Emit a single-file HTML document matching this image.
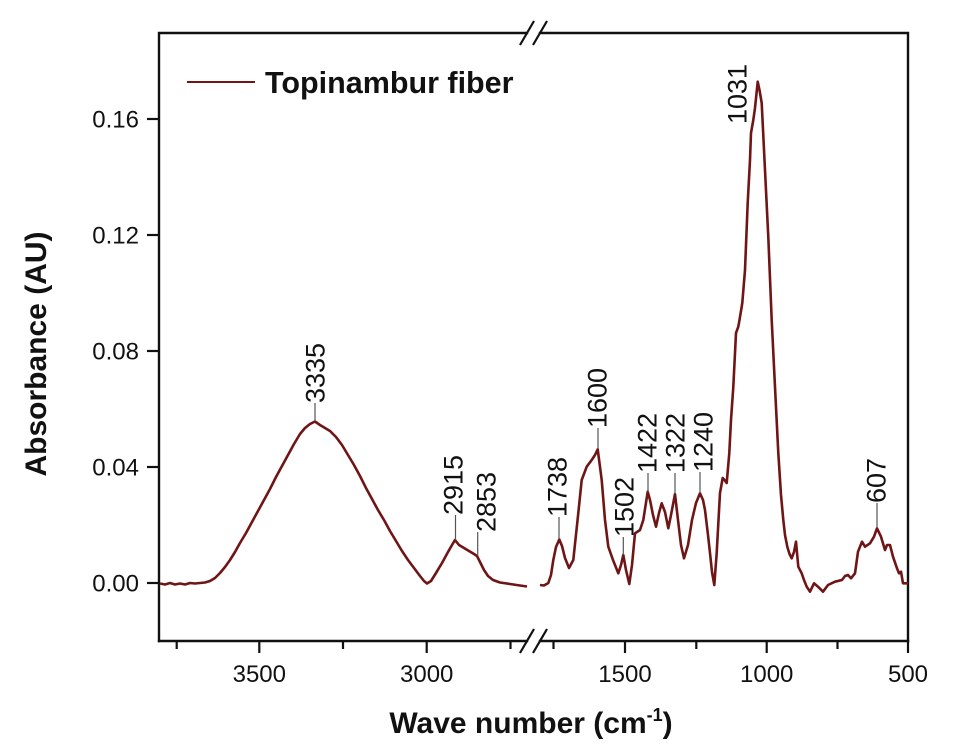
<!DOCTYPE html>
<html><head><meta charset="utf-8"><style>
html,body{margin:0;padding:0;background:#fff;}
svg{display:block;}
text{font-family:"Liberation Sans",Arial,sans-serif;fill:#111;}
</style></head><body>
<svg width="953" height="750" viewBox="0 0 953 750" xmlns="http://www.w3.org/2000/svg">
<!-- frame -->
<g stroke="#111" stroke-width="2.4" fill="none" stroke-linecap="square">
<path d="M159,641 L159,33 L527,33"/>
<path d="M540,33 L908,33 L908,641"/>
<path d="M159,641 L527,641"/>
<path d="M540,641 L908,641"/>
</g>
<!-- break marks -->
<g stroke="#111" stroke-width="2.2" fill="none">
<line x1="520" y1="45" x2="534" y2="21"/>
<line x1="533" y1="45" x2="547" y2="21"/>
<line x1="520" y1="653" x2="534" y2="629"/>
<line x1="533" y1="653" x2="547" y2="629"/>
</g>
<!-- y ticks -->
<g stroke="#111" stroke-width="2.2">
<line x1="147" y1="583" x2="159" y2="583"/>
<line x1="147" y1="467" x2="159" y2="467"/>
<line x1="147" y1="351" x2="159" y2="351"/>
<line x1="147" y1="235" x2="159" y2="235"/>
<line x1="147" y1="119" x2="159" y2="119"/>
</g>
<!-- x ticks -->
<g stroke="#111" stroke-width="2.2">
<line x1="176.7" y1="641" x2="176.7" y2="649"/>
<line x1="259.3" y1="641" x2="259.3" y2="653"/>
<line x1="343" y1="641" x2="343" y2="649"/>
<line x1="426.7" y1="641" x2="426.7" y2="653"/>
<line x1="510.5" y1="641" x2="510.5" y2="649"/>
<line x1="553.5" y1="641" x2="553.5" y2="649"/>
<line x1="625" y1="641" x2="625" y2="653"/>
<line x1="696.3" y1="641" x2="696.3" y2="649"/>
<line x1="766.7" y1="641" x2="766.7" y2="653"/>
<line x1="837.5" y1="641" x2="837.5" y2="649"/>
<line x1="908" y1="641" x2="908" y2="653"/>
</g>
<!-- y tick labels -->
<g font-size="24" text-anchor="end">
<text x="139" y="591.5">0.00</text>
<text x="139" y="475.5">0.04</text>
<text x="139" y="359.5">0.08</text>
<text x="139" y="243.5">0.12</text>
<text x="139" y="127.5">0.16</text>
</g>
<!-- x tick labels -->
<g font-size="24" text-anchor="middle">
<text x="259.3" y="682">3500</text>
<text x="426.7" y="682">3000</text>
<text x="625" y="682">1500</text>
<text x="766.7" y="682">1000</text>
<text x="908" y="682">500</text>
</g>
<!-- axis titles -->
<text x="531" y="733" font-size="30" font-weight="bold" text-anchor="middle">Wave number (cm<tspan font-size="18" dy="-12">-1</tspan><tspan dy="12">)</tspan></text>
<text transform="translate(46,354) rotate(-90)" font-size="30" font-weight="bold" text-anchor="middle">Absorbance (AU)</text>
<!-- legend -->
<line x1="187" y1="82" x2="255" y2="82" stroke="#701515" stroke-width="2"/>
<text x="265" y="93" font-size="30.5" font-weight="bold">Topinambur fiber</text>
<!-- spectrum -->
<g fill="none" stroke="#701515" stroke-width="2.6" stroke-linejoin="round">
<polyline points="160,583.5 165,584.5 170,583 175,584.5 180,583.5 185,584.5 190,583 195,583.5 200,583 205,582.5 210,581 215,578 220,573 225,567 230,560 235,552 240,543 246,533 252,522 258,511 264,500 270,489 276,477 282,466 288,455 294,444 300,434 305,428 310,424 315,421.5 320,425 325,428 330,431 336,437 342,445 348,455 354,465 360,476 366,488 372,499 378,510 384,520 390,531 396,541 402,551 408,560 414,568 420,576 424,581 427,583.5 431,581 436,573 442,563 448,552 452,545 455,540 459,545 464,548 469,551 474,554 477,556 480,562 484,570 488,576 493,580 500,582.5 510,584 520,585.5 527,586.5"/>
<polyline points="540,585 544,585.5 548.3,583 551,575 553.3,560 556,547 559.3,539.5 562,546 565,558 569,568 573.3,560 578.3,513 581.7,480 586.7,466.7 591.7,460 595,455 597.7,449.3 601.7,480 605,520 608.3,546.7 613,560 618.3,573.3 621,565 623.3,555 626,570 629.3,584 632,565 635,533.3 640,530 643.3,520 647.7,491.7 650,500 653,515 656,526.7 659,513 661.7,503.3 665,512 668.3,528.3 671,515 675,494 678,520 681,545 684,558.3 688,545 692,520 696,503 700,493.3 703,500 705,510 708,535 710,553 712,572 714.3,585 716.7,553 718.5,520 720,493 722.7,478 724.5,480 726.7,483 729.3,453 731,420 733.3,387 736,333 738.3,326.7 739.5,320 742.3,303 745,270 747.7,203 750,160 751,133 753.3,120 755,108 757.7,81.7 759.5,90 761.7,103 765,170 768.3,237 771.7,320 775,387 778.3,453 781,495 783.3,520 785,535 787.3,546.7 789.5,554 791.7,558.3 794,552 796,541.7 798.3,566.7 801.7,573.3 804,580 806.7,586.7 810,591.7 814,583.3 818,586.7 823,591.7 828,585 835,581.7 842,580 845,576 848,575 851,578.3 855,573.3 858,551.7 862,541.7 865,546.7 870,543.3 874,536.7 877,528.3 881,536.7 885,550 887,545 890,545 893,556.7 897,568.3 899,573.3 901,571.7 903,583.3 908,583.3"/>
</g>
<!-- peak marker lines -->
<g stroke="#555" stroke-width="1.2">
<line x1="315" y1="403" x2="315" y2="421"/>
<line x1="455.5" y1="515" x2="455.5" y2="540"/>
<line x1="477.7" y1="532" x2="477.7" y2="556"/>
<line x1="559" y1="517" x2="559" y2="539"/>
<line x1="598" y1="428" x2="598" y2="449"/>
<line x1="623.3" y1="537" x2="623.3" y2="555"/>
<line x1="648" y1="473" x2="648" y2="492"/>
<line x1="675" y1="473" x2="675" y2="494"/>
<line x1="700" y1="472" x2="700" y2="493"/>
<line x1="877" y1="503" x2="877" y2="528"/>
</g>
<!-- peak labels -->
<g font-size="27">
<text transform="translate(324.7,403) rotate(-90)">3335</text>
<text transform="translate(462.7,515) rotate(-90)">2915</text>
<text transform="translate(495.7,532) rotate(-90)">2853</text>
<text transform="translate(566.4,517) rotate(-90)">1738</text>
<text transform="translate(606.7,428) rotate(-90)">1600</text>
<text transform="translate(633.7,537) rotate(-90)">1502</text>
<text transform="translate(656.4,473) rotate(-90)">1422</text>
<text transform="translate(684.7,473) rotate(-90)">1322</text>
<text transform="translate(712.4,472) rotate(-90)">1240</text>
<text transform="translate(746.7,124) rotate(-90)">1031</text>
<text transform="translate(885.7,503) rotate(-90)">607</text>
</g>
</svg>
</body></html>
